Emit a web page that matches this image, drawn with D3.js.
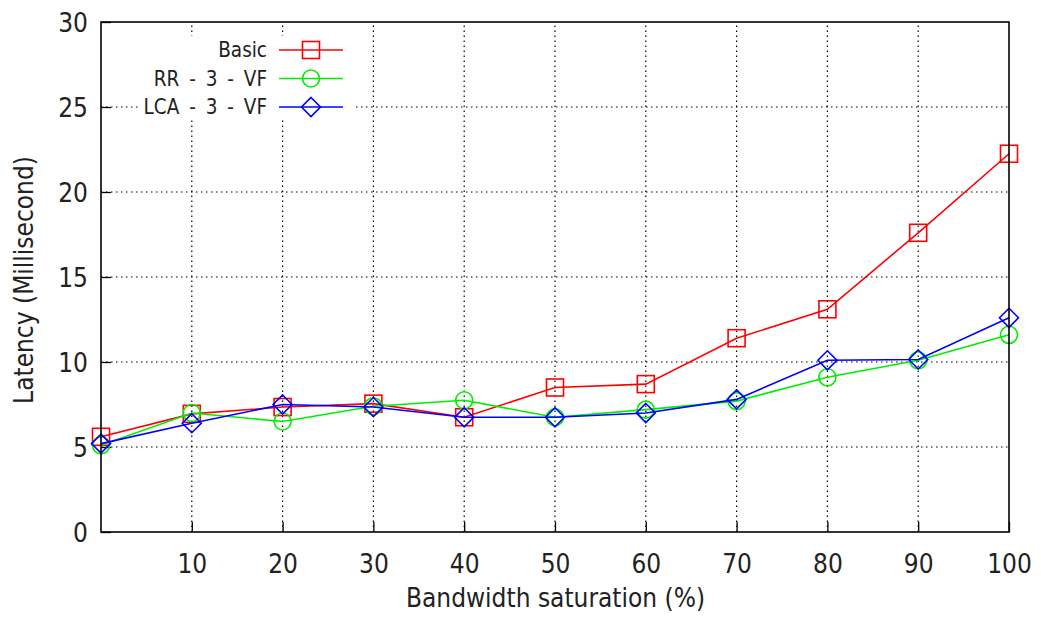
<!DOCTYPE html>
<html><head><meta charset="utf-8">
<script src="https://cdn.jsdelivr.net/npm/d3@7"></script>
<style>body{margin:0;background:#fff}text{font-family:"DejaVu Sans Condensed","DejaVu Sans",Verdana,sans-serif;font-stretch:condensed}</style>
</head><body><svg id="c" width="1041" height="621"></svg>
<script>
const xValues = [0,10,20,30,40,50,60,70,80,90,100];
const basic = [5.6,6.95,7.35,7.55,6.75,8.5,8.7,11.4,13.1,17.6,22.25];
const rr3vf = [5.1,7.0,6.5,7.4,7.75,6.75,7.2,7.7,9.1,10.1,11.6];
const lca3vf = [5.2,6.4,7.5,7.35,6.75,6.75,7.0,7.8,10.1,10.15,12.6];
const seriesNames = ["Basic","RR - 3 - VF","LCA - 3 - VF"];
const seriesColors = ["#ff0000","#00ee00","#0000ff"];
const seriesShapes = ["square","circle","diamond"];
const xTicks = [10,20,30,40,50,60,70,80,90,100];
const yTicks = [0,5,10,15,20,25,30];

const FONT = "'DejaVu Sans Condensed','DejaVu Sans',Verdana,sans-serif";
const svg = d3.select("#c");
const L=101,R=1009,T=22,B=532;
const x = d3.scaleLinear().domain([0,100]).range([L,R]);
const y = d3.scaleLinear().domain([0,30]).range([B,T]);

// grid
const grid = svg.append("g").attr("stroke","#000").attr("stroke-width",1.2).attr("stroke-dasharray","1.5,3.5");
yTicks.filter(v=>v>0&&v<30).forEach(v=>grid.append("line").attr("x1",L).attr("x2",R).attr("y1",y(v)).attr("y2",y(v)));
xTicks.filter(v=>v<100).forEach(v=>grid.append("line").attr("x1",x(v)).attr("x2",x(v)).attr("y1",B).attr("y2",T));

// axes
const yAxis = svg.append("g").attr("transform",`translate(${L},0)`).call(d3.axisLeft(y).tickValues(yTicks).tickSize(-10).tickFormat(d3.format("d")));
const xAxis = svg.append("g").attr("transform",`translate(0,${B})`).call(d3.axisBottom(x).tickValues(xTicks).tickSize(-10).tickFormat(d3.format("d")));
[yAxis,xAxis].forEach(a=>{a.select(".domain").remove();a.selectAll("line").attr("stroke","#000").attr("stroke-width",1.3);a.selectAll("text").attr("font-size",26).attr("fill","#222").style("font-family",FONT).style("font-stretch","condensed");});
yAxis.selectAll("text").attr("x",-13).attr("dy","0.35em");
xAxis.selectAll("text").attr("y",32).attr("dy","0.35em");

// legend background
svg.append("rect").attr("x",138).attr("y",36).attr("width",217).attr("height",84).attr("fill","#fff");

function marker(g,shape,cx,cy,color){
  if(shape==="square") g.append("rect").attr("x",cx-8.5).attr("y",cy-8.5).attr("width",17).attr("height",17).attr("fill","none").attr("stroke",color).attr("stroke-width",1.6);
  else if(shape==="circle") g.append("circle").attr("cx",cx).attr("cy",cy).attr("r",8.5).attr("fill","none").attr("stroke",color).attr("stroke-width",1.6);
  else g.append("path").attr("d",`M${cx},${cy-9.5}L${cx+9.5},${cy}L${cx},${cy+9.5}L${cx-9.5},${cy}Z`).attr("fill","none").attr("stroke",color).attr("stroke-width",1.6);
}

const data=[basic,rr3vf,lca3vf];
const line=d3.line().x((d,i)=>x(xValues[i])).y(d=>y(d));
data.forEach((s,k)=>{
  const g=svg.append("g");
  g.append("path").attr("d",line(s)).attr("fill","none").attr("stroke",seriesColors[k]).attr("stroke-width",1.6);
  s.forEach((v,i)=>marker(g,seriesShapes[k],x(xValues[i]),y(v),seriesColors[k]));
});

// legend
seriesNames.forEach((n,k)=>{
  const yy=50+k*28.5;
  svg.append("text").attr("x",267).attr("y",yy).attr("dy","0.35em").attr("text-anchor","end").attr("font-size",20.5).attr("word-spacing","4px").attr("fill","#222").text(n);
  svg.append("line").attr("x1",279).attr("x2",343).attr("y1",yy).attr("y2",yy).attr("stroke",seriesColors[k]).attr("stroke-width",1.6);
  marker(svg,seriesShapes[k],311,yy,seriesColors[k]);
});

// border
svg.append("rect").attr("x",L).attr("y",T).attr("width",R-L).attr("height",B-T).attr("fill","none").attr("stroke","#000").attr("stroke-width",1.6);

// axis titles
svg.append("text").attr("x",(L+R)/2+0.5).attr("y",607).attr("text-anchor","middle").attr("font-size",26).attr("fill","#222").text("Bandwidth saturation (%)");
svg.append("text").attr("transform",`translate(33,280) rotate(-90)`).attr("text-anchor","middle").attr("font-size",26).attr("fill","#222").text("Latency (Millisecond)");
</script></body></html>
